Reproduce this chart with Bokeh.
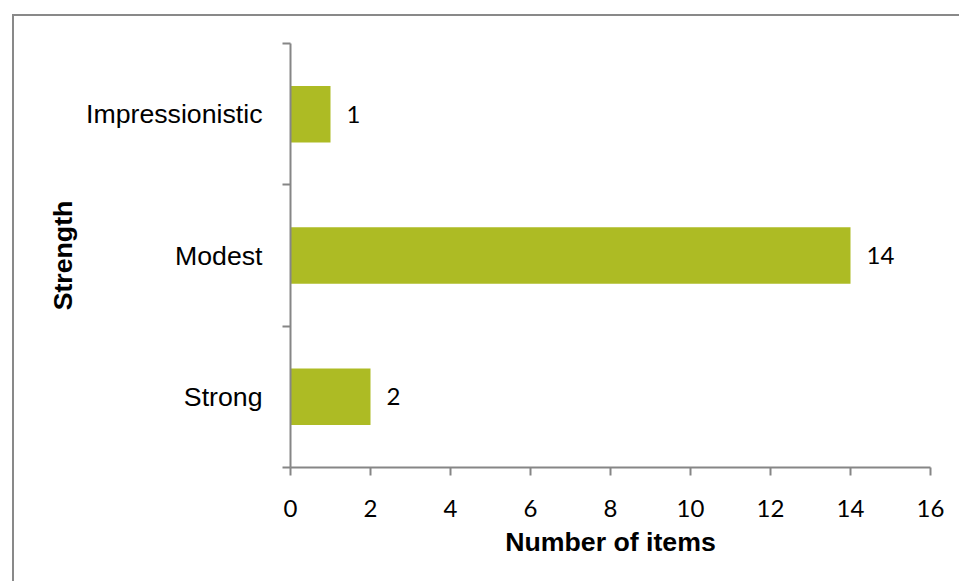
from bokeh.plotting import figure
from bokeh.models import (ColumnDataSource, Range1d, LinearAxis,
                          FixedTicker, LabelSet)
from bokeh.core.properties import value
from bokeh.embed import file_html
from bokeh.resources import INLINE

# ---- data ----
categories = ["Impressionistic", "Modest", "Strong"]   # top to bottom
counts = [1, 14, 2]
x_ticks = [0, 2, 4, 6, 8, 10, 12, 14, 16]
x_title = "Number of items"
y_title = "Strength"

n_cat = len(categories)
# category slot positions (bottom slot = 0.5)
ypos = [n_cat - i - 0.5 for i in range(n_cat)]
source = ColumnDataSource(dict(cat=categories, y=ypos, n=counts,
                               lbl=[str(v) for v in counts]))

AX = "#868686"
BAR = "#ADBB24"
NUM_FONT = "Lato"
TXT_FONT = "Liberation Sans"

p = figure(width=959, height=581, output_backend="svg", toolbar_location=None,
           y_range=Range1d(0, n_cat), x_range=Range1d(0, 16),
           x_axis_location=None, y_axis_location=None,
           min_border_left=290, min_border_right=29, min_border_top=43,
           min_border_bottom=114)
p.outline_line_color = None
p.grid.visible = False
p.background_fill_color = "white"
p.border_fill_color = "white"

# chart-area border: only its top and left edges fall inside the picture
p.stylesheets = [
    ":host { position: relative; }"
    ":host::after { content: ''; position: absolute; left: 12px; top: 14px;"
    " right: 0; bottom: 0; border-left: 2px solid #898989;"
    " border-top: 2px solid #898989; pointer-events: none; }"
]

p.hbar(y="y", right="n", left=0, height=0.4, source=source,
       fill_color=BAR, line_color=None)

labels = LabelSet(x="n", y="y", text="lbl", source=source, x_offset=16,
                  text_baseline="middle", text_align="left",
                  text_font=value(NUM_FONT), text_font_size="24px",
                  text_color="black")
p.add_layout(labels)

# x axis
xa = LinearAxis(ticker=FixedTicker(ticks=x_ticks, minor_ticks=[]))
xa.axis_label = x_title
xa.axis_line_color = AX
xa.axis_line_width = 2
xa.major_tick_line_color = AX
xa.major_tick_line_width = 2
xa.major_tick_out = 8
xa.major_tick_in = 0
xa.major_label_text_font = NUM_FONT
xa.major_label_text_font_size = "24px"
xa.major_label_text_color = "black"
xa.major_label_standoff = 24
xa.axis_label_text_font = TXT_FONT
xa.axis_label_text_font_style = "bold"
xa.axis_label_text_font_size = "26.7px"
xa.axis_label_text_color = "black"
xa.axis_label_standoff = 7
p.add_layout(xa, "below")

# y axis: ticks on category boundaries, labels at category centres
bounds = [float(i) for i in range(n_cat + 1)]
ya = LinearAxis(ticker=FixedTicker(ticks=ypos, minor_ticks=bounds))
ya.major_label_overrides = {y: c for y, c in zip(ypos, categories)}
ya.axis_line_color = AX
ya.axis_line_width = 2
ya.major_tick_line_color = None
ya.major_tick_out = 0
ya.major_tick_in = 0
ya.minor_tick_line_color = AX
ya.minor_tick_line_width = 2
ya.minor_tick_out = 8
ya.minor_tick_in = 0
ya.major_label_text_font = TXT_FONT
ya.major_label_text_font_size = "26.7px"
ya.major_label_text_color = "black"
ya.major_label_standoff = 20
ya.axis_label = y_title
ya.axis_label_text_font = TXT_FONT
ya.axis_label_text_font_style = "bold"
ya.axis_label_text_font_size = "26.7px"
ya.axis_label_text_color = "black"
ya.axis_label_standoff = 5
p.add_layout(ya, "left")

open("out.html", "w").write(file_html(p, INLINE))
